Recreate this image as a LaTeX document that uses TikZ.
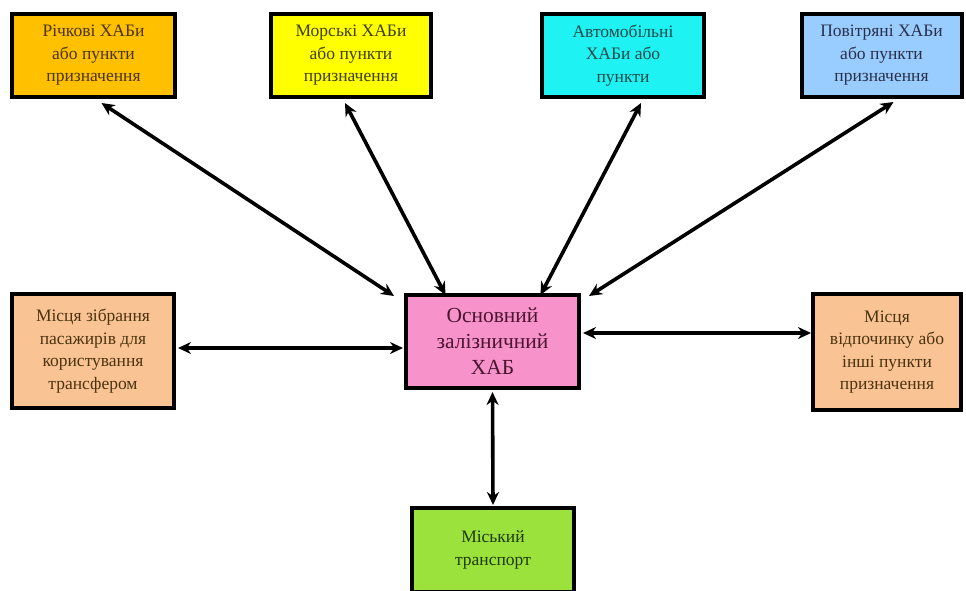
\documentclass[tikz,border=0pt]{standalone}
\usepackage{fontspec}
\setmainfont{Liberation Serif}
\usetikzlibrary{arrows.meta}
\definecolor{cOrange}{HTML}{FFC000}
\definecolor{cYellow}{HTML}{FFFF00}
\definecolor{cCyan}{HTML}{1EF2F2}
\definecolor{cBlue}{HTML}{99CCFF}
\definecolor{cPeach}{HTML}{FAC393}
\definecolor{cPink}{HTML}{F792CA}
\definecolor{cGreen}{HTML}{9CE23C}
\definecolor{tBrown}{HTML}{4A3410}
\definecolor{tOlive}{HTML}{3E3E08}
\definecolor{tTeal}{HTML}{1E4A4A}
\definecolor{tNavy}{HTML}{2A3048}
\definecolor{tMaroon}{HTML}{4A1630}
\definecolor{tGreen}{HTML}{1E3808}
\tikzset{
  box/.style={draw=black, line width=4pt, inner sep=0pt, align=center,
    font=\fontsize{17.5}{22.5}\selectfont},
  hubbox/.style={box, font=\fontsize{21.5}{26}\selectfont},
  link/.style={line width=3.6pt, {Stealth[length=13pt,width=12pt]}-{Stealth[length=13pt,width=12pt]}}
}
\begin{document}
\begin{tikzpicture}[x=1pt,y=-1pt]
\useasboundingbox (0,0) rectangle (966,590);
\node[box, fill=cOrange, text=tBrown, minimum width=163pt, minimum height=83pt] (r1) at (93.5,55.5) {Річкові ХАБи\\або пункти\\призначення};
\node[box, fill=cYellow, text=tOlive, minimum width=160pt, minimum height=83pt] (r2) at (351,55.5) {Морські ХАБи\\або пункти\\призначення};
\node[box, fill=cCyan, text=tTeal, minimum width=162pt, minimum height=83pt] (r3) at (623,55.5) {Автомобільні\\ХАБи або\\пункти};
\node[box, fill=cBlue, text=tNavy, minimum width=160pt, minimum height=83pt] (r4) at (881.5,55.5) {Повітряні ХАБи\\або пункти\\призначення};
\node[box, fill=cPeach, text=tBrown, minimum width=162pt, minimum height=114pt] (l) at (93,351) {Місця зібрання\\пасажирів для\\користування\\трансфером};
\node[hubbox, fill=cPink, text=tMaroon, minimum width=173pt, minimum height=93pt] (hub) at (492.5,341.5) {Основний\\залізничний\\ХАБ};
\node[box, fill=cPeach, text=tBrown, minimum width=148pt, minimum height=116pt] (rt) at (887,352) {Місця\\відпочинку або\\інші пункти\\призначення};
\node[box, fill=cGreen, text=tGreen, minimum width=162pt, minimum height=84pt] (b) at (493,550) {Міський\\транспорт};
\draw[link] ([xshift=8pt,yshift=-4pt]r1.south) -- ([xshift=-10pt,yshift=-3pt]hub.north west);
\draw[link] ([xshift=-6pt,yshift=-4pt]r2.south) -- ([xshift=-47pt,yshift=-2pt]hub.north);
\draw[link] ([xshift=18pt,yshift=-4pt]r3.south) -- ([xshift=48pt,yshift=-2pt]hub.north);
\draw[link] ([xshift=12pt,yshift=-3pt]r4.south) -- ([xshift=8pt,yshift=-3pt]hub.north east);
\draw[link] ([xshift=2pt,yshift=3pt]l.east) -- ([xshift=-1pt,yshift=-6.5pt]hub.west);
\draw[link] ([xshift=2pt,yshift=8.5pt]hub.east) -- ([xshift=0pt,yshift=19pt]rt.west);
\draw[link] ([yshift=-2pt]hub.south) -- ([yshift=1pt]b.north);
\end{tikzpicture}
\end{document}
